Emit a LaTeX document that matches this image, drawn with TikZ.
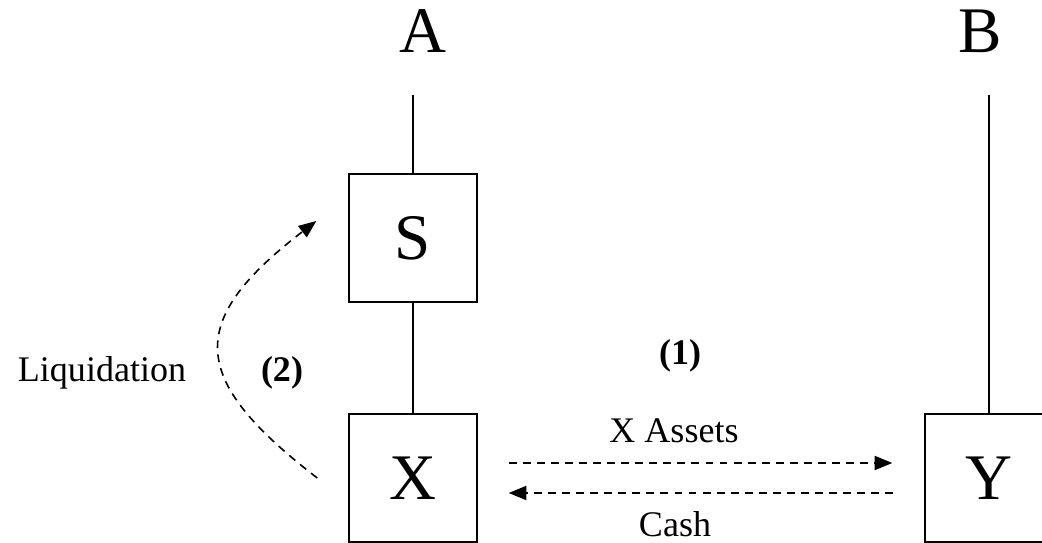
\documentclass[tikz,border=0pt]{standalone}
\usepackage{fontspec}
\setmainfont{Liberation Serif}
\usetikzlibrary{arrows.meta}
\tikzset{
  caja/.style={draw,line width=0.8pt,minimum size=2.56cm,inner sep=0pt,font=\fontsize{37}{40}\selectfont},
  grande/.style={font=\fontsize{37}{40}\selectfont,inner sep=0pt},
  texto/.style={font=\fontsize{20.5}{23}\selectfont,inner sep=0pt},
  flujo/.style={dash pattern=on 4.5pt off 3.5pt,line width=0.9pt,-{Triangle[length=10pt,width=8pt]}}
}
\begin{document}
\begin{tikzpicture}
                  \useasboundingbox (0,0) rectangle (20.84,10.86);
                  % Empresas
                  \node[grande,anchor=base] (nA) at (8.46,9.80) {A};
                  \node[grande,anchor=base] (nB) at (19.6,9.80) {B};
                  \coordinate (Atop) at (8.26,8.96);
                  \coordinate (Btop) at (19.78,8.96);

                  \node[caja] (S) at (8.26,6.10) {S};
                  \node[caja] (X) at (8.26,1.30) {X};
                  \node[caja] (Y) at (19.78,1.30) {Y};

                  \begin{scope}[line width=0.8pt]
                      \draw (Atop) -- (S.north);
                      \draw (S.south) -- (X.north);
                      \draw (Btop) -- (Y.north);
                  \end{scope}

                  % Operaciones
                  \node[texto,anchor=base] (assets) at (13.48,2.00) {X Assets};
                  \node[texto,anchor=base] (cash) at (13.5,0.13) {Cash};
                  \node[texto,font=\fontsize{20.5}{23}\selectfont\bfseries] (uno) at (13.6,3.74) {(1)};
                  \node[texto,font=\fontsize{20.5}{23}\selectfont\bfseries] (dos) at (5.64,3.40) {(2)};
                  \node[texto,anchor=base] (liq) at (2.04,3.22) {Liquidation};

                  \begin{scope}[flujo]
                      \draw[shorten <=0.62cm,shorten >=0.64cm] ([yshift=0.3cm]X.east) -- ([yshift=0.3cm]Y.west);
                      \draw[shorten <=0.62cm,shorten >=0.62cm] ([yshift=-0.3cm]Y.west) -- ([yshift=-0.3cm]X.east);
                  \end{scope}

                  \coordinate (L1) at ([xshift=-0.62cm]X.west);
                  \coordinate (L2) at ([xshift=-0.64cm,yshift=0.34cm]S.west);
                  \draw[flujo] (L1) .. controls +(-2.6,2.0) and +(-2.6,-2.0) .. (L2);
              \end{tikzpicture}
\end{document}
